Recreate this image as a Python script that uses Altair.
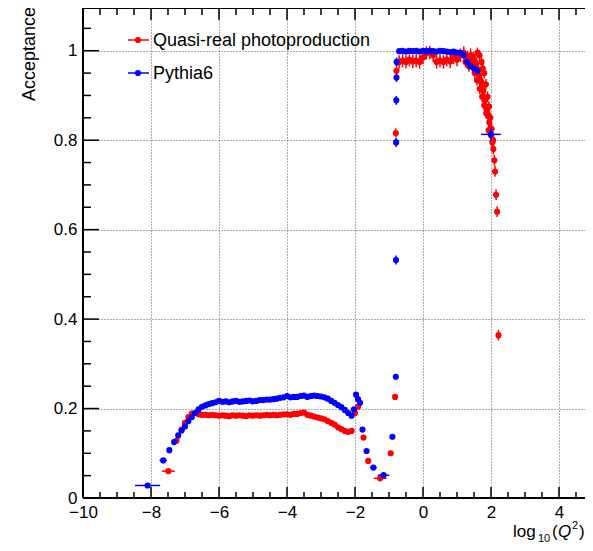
import altair as alt
import pandas as pd

# ---------------- data ----------------
# Quasi-real photoproduction (red)
red_x = [-7.49, -7.25,
         -7.1, -7.0, -6.9, -6.8, -6.7, -6.6, -6.5, -6.4, -6.3, -6.2, -6.1, -6.0,
         -5.9, -5.8, -5.7, -5.6, -5.5, -5.4, -5.3, -5.2, -5.1, -5.0,
         -4.9, -4.8, -4.7, -4.6, -4.5, -4.4, -4.3, -4.2, -4.1, -4.0,
         -3.9, -3.8, -3.7, -3.6, -3.5, -3.4, -3.3, -3.2, -3.1, -3.0,
         -2.9, -2.8, -2.7, -2.6, -2.5, -2.4, -2.3, -2.2, -2.1,
         -2.0, -1.91, -1.75, -1.61, -1.26, -0.95, -0.82, -0.80, -0.78,
         -0.7, -0.6, -0.5, -0.4, -0.3, -0.2, -0.1, 0.0, 0.1, 0.2, 0.3,
         0.4, 0.5, 0.6, 0.7, 0.8, 0.9, 1.0, 1.1, 1.2, 1.3, 1.4,
         1.47, 1.50, 1.53, 1.56, 1.59, 1.60, 1.62, 1.65, 1.66, 1.68, 1.71, 1.72,
         1.74, 1.77, 1.80, 1.83, 1.86, 1.89, 1.92, 1.95, 1.98, 2.01, 2.04,
         2.07, 2.10, 2.12, 2.15, 2.18, 2.22,
         1.25, 1.35, 1.44, 1.52, 1.59, 1.67, 1.74, 1.80, 1.86, 1.93,
         1.76, 1.80, 1.85, 1.90, 1.94, 1.98, 2.02, 2.06]
red_y = [0.060, 0.128,
         0.153, 0.168, 0.181, 0.189, 0.190, 0.187, 0.186, 0.186, 0.185, 0.186, 0.185, 0.184,
         0.185, 0.184, 0.183, 0.185, 0.184, 0.185, 0.184, 0.183, 0.185, 0.184,
         0.185, 0.184, 0.185, 0.186, 0.185, 0.186, 0.185, 0.186, 0.187, 0.187,
         0.186, 0.188, 0.188, 0.190, 0.191, 0.186, 0.184, 0.182, 0.180, 0.178,
         0.176, 0.172, 0.168, 0.164, 0.158, 0.154, 0.150, 0.148, 0.150,
         0.190, 0.204, 0.135, 0.083, 0.044, 0.100, 0.226, 0.816, 0.955,
         0.975, 0.978, 0.975, 0.980, 0.976, 0.978, 0.975, 0.985, 0.995, 0.996, 0.990,
         0.975, 0.978, 0.975, 0.980, 0.976, 0.985, 0.980, 0.990, 0.995, 0.985, 0.990,
         0.985, 0.980, 0.975, 0.970, 0.960, 0.995, 0.955, 0.945, 0.990, 0.935, 0.930, 0.975,
         0.915, 0.910, 0.895, 0.890, 0.875, 0.865, 0.855, 0.840, 0.825, 0.810, 0.795,
         0.780, 0.755, 0.730, 0.678, 0.640, 0.364,
         0.975, 0.965, 0.972, 0.950, 0.934, 0.915, 0.897, 0.878, 0.860, 0.822,
         0.960, 0.950, 0.925, 0.897, 0.875, 0.850, 0.825, 0.800]
red_xe = [0.19, 0.05] + [0.05] * 51 + [0.03, 0.03, 0.04, 0.08, 0.19, 0.05, 0.02, 0.01, 0.01] \
    + [0.05] * 22 + [0.015] * 31 + [0.015] * 18
red_ye = [0.003] * 2 + [0.002] * 51 + [0.004, 0.004, 0.004, 0.004, 0.004, 0.004, 0.006, 0.01, 0.015] \
    + [0.015] * 22 + [0.012] * 31 + [0.012] * 18

# Pythia6 (blue)
blue_x = [-8.10, -7.64, -7.46, -7.32,
          -7.2, -7.1, -7.0, -6.9, -6.8, -6.7, -6.6, -6.5, -6.4, -6.3, -6.2, -6.1, -6.0,
          -5.9, -5.8, -5.7, -5.6, -5.5, -5.4, -5.3, -5.2, -5.1, -5.0,
          -4.9, -4.8, -4.7, -4.6, -4.5, -4.4, -4.3, -4.2, -4.1, -4.0,
          -3.9, -3.8, -3.7, -3.6, -3.5, -3.4, -3.3, -3.2, -3.1, -3.0,
          -2.9, -2.8, -2.7, -2.6, -2.5, -2.4, -2.3, -2.2, -2.1,
          -2.03, -1.97, -1.91, -1.85, -1.78, -1.66, -1.46, -1.16, -0.90,
          -0.80, -0.795, -0.79, -0.785, -0.78, -0.775,
          -0.7, -0.6, -0.5, -0.4, -0.3, -0.2, -0.1, 0.0, 0.1, 0.2, 0.3, 0.4,
          0.5, 0.6, 0.7, 0.8, 0.9, 1.0, 1.1, 1.2, 1.3, 1.4, 1.5, 1.6,
          2.0]
blue_y = [0.028, 0.084, 0.107, 0.125,
          0.140, 0.151, 0.160, 0.172, 0.181, 0.190, 0.198, 0.204, 0.207, 0.210, 0.212, 0.214, 0.217,
          0.215, 0.216, 0.214, 0.216, 0.217, 0.215, 0.216, 0.217, 0.218, 0.216,
          0.217, 0.219, 0.219, 0.220, 0.220, 0.221, 0.222, 0.224, 0.225, 0.228,
          0.225, 0.226, 0.226, 0.228, 0.229, 0.226, 0.228, 0.229, 0.228, 0.227,
          0.225, 0.222, 0.217, 0.213, 0.208, 0.203, 0.197, 0.190, 0.184,
          0.198, 0.231, 0.221, 0.213, 0.153, 0.105, 0.068, 0.051, 0.137,
          0.271, 0.532, 0.795, 0.889, 0.940, 0.975,
          0.999, 1.000, 0.998, 1.000, 0.999, 1.000, 0.998, 1.000, 0.999, 1.000, 0.999, 0.998,
          1.000, 0.999, 0.998, 0.997, 0.998, 0.996, 0.995, 0.990, 0.975, 0.965, 0.960, 0.955,
          0.813]
blue_xe = [0.37, 0.11, 0.06, 0.05] + [0.05] * 52 \
    + [0.03, 0.03, 0.03, 0.03, 0.04, 0.06, 0.10, 0.17, 0.04] \
    + [0.01, 0.005, 0.005, 0.005, 0.005, 0.005] + [0.05] * 24 + [0.29]
blue_ye = [0.003] * 4 + [0.002] * 52 + [0.004] * 9 \
    + [0.006, 0.01, 0.01, 0.01, 0.01, 0.01] + [0.003] * 24 + [0.015]

# axis ticks
x_major = [-10, -8, -6, -4, -2, 0, 2, 4]
x_minor = [-9.5, -9, -8.5, -7.5, -7, -6.5, -5.5, -5, -4.5, -3.5, -3, -2.5,
           -1.5, -1, -0.5, 0.5, 1, 1.5, 2.5, 3, 3.5, 4.5]
y_major = [0, 0.2, 0.4, 0.6, 0.8, 1.0]
y_minor = [0.05, 0.1, 0.15, 0.25, 0.3, 0.35, 0.45, 0.5, 0.55, 0.65, 0.7, 0.75,
           0.85, 0.9, 0.95, 1.05]

# ---------------- chart ----------------
W, H = 502, 490
FONT = "Liberation Sans"
RED, BLUE = "#ff0000", "#0000ff"

xs = alt.Scale(domain=[-10, 4.765], nice=False, zero=False)
ys = alt.Scale(domain=[0, 1.0955], nice=False, zero=False)
xax = alt.Axis(values=x_major, format="d", title=None, ticks=False, domain=False,
               grid=True, gridDash=[1, 2], gridColor="#555", gridWidth=1,
               labelFontSize=17, labelFont=FONT, labelColor="black",
               labelPadding=6, labelFlush=False, labelOverlap=False)
yax = alt.Axis(values=y_major, format="~g", title=None, ticks=False, domain=False,
               grid=True, gridDash=[1, 2], gridColor="#555", gridWidth=1,
               labelFontSize=17, labelFont=FONT, labelColor="black",
               labelPadding=6, labelFlush=False, labelOverlap=False)


def X(f):
    return alt.X(f, type="quantitative", scale=xs, axis=xax)


def Y(f):
    return alt.Y(f, type="quantitative", scale=ys, axis=yax)


def frame_df(xv, yv, xe, ye):
    return pd.DataFrame({
        "x": xv, "y": yv,
        "xlo": [a - b for a, b in zip(xv, xe)], "xhi": [a + b for a, b in zip(xv, xe)],
        "ylo": [a - b for a, b in zip(yv, ye)], "yhi": [a + b for a, b in zip(yv, ye)],
    })


def series(df, color):
    base = alt.Chart(df)
    xerr = base.mark_rule(color=color, strokeWidth=1.5).encode(x=X("xlo"), x2="xhi", y=Y("y"))
    yerr = base.mark_rule(color=color, strokeWidth=1.5).encode(x=X("x"), y=Y("ylo"), y2="yhi")
    pts = base.mark_circle(color=color, size=38, opacity=1).encode(x=X("x"), y=Y("y"))
    return [xerr, yerr, pts]


red_df = frame_df(red_x, red_y, red_xe, red_ye)
blue_df = frame_df(blue_x, blue_y, blue_xe, blue_ye)

xmaj = alt.Chart(pd.DataFrame({"v": x_major}))
xmin = alt.Chart(pd.DataFrame({"v": x_minor}))
ymaj = alt.Chart(pd.DataFrame({"v": y_major}))
ymin = alt.Chart(pd.DataFrame({"v": y_minor}))
tk = dict(color="black", strokeWidth=1.5)
ticks = [
    xmaj.mark_rule(**tk).encode(x=X("v"), y=alt.value(H), y2=alt.value(H - 11)),
    xmin.mark_rule(**tk).encode(x=X("v"), y=alt.value(H), y2=alt.value(H - 6)),
    xmaj.mark_rule(**tk).encode(x=X("v"), y=alt.value(0), y2=alt.value(12)),
    xmin.mark_rule(**tk).encode(x=X("v"), y=alt.value(0), y2=alt.value(7)),
    ymaj.mark_rule(**tk).encode(y=Y("v"), x=alt.value(0), x2=alt.value(16)),
    ymin.mark_rule(**tk).encode(y=Y("v"), x=alt.value(0), x2=alt.value(8)),
]

one = alt.Chart(pd.DataFrame({"a": [0]}))
fr = dict(color="black", strokeWidth=2)
frame = [
    one.mark_rule(**fr).encode(x=alt.value(0), y=alt.value(0), y2=alt.value(H)),
    one.mark_rule(**fr).encode(x=alt.value(0), x2=alt.value(W), y=alt.value(0)),
    one.mark_rule(**fr).encode(x=alt.value(0), x2=alt.value(W), y=alt.value(H)),
]

legend = []
for label, color, ly in [("Quasi-real photoproduction", RED, 32), ("Pythia6", BLUE, 65)]:
    legend += [
        one.mark_rule(color=color, strokeWidth=1.5).encode(x=alt.value(45), x2=alt.value(66), y=alt.value(ly)),
        one.mark_circle(color=color, size=38, opacity=1).encode(x=alt.value(55), y=alt.value(ly)),
        one.mark_text(text=label, align="left", baseline="middle", font=FONT, fontSize=18,
                      color="black").encode(x=alt.value(70), y=alt.value(ly + 1)),
    ]

t = dict(font=FONT, color="black", baseline="alphabetic", align="left")
titles = [
    one.mark_text(text="Acceptance", angle=270, font=FONT, fontSize=18, color="black",
                  align="right", baseline="alphabetic").encode(x=alt.value(-48), y=alt.value(-1)),
    one.mark_text(text="log", fontSize=17, **t).encode(x=alt.value(430), y=alt.value(529)),
    one.mark_text(text="10", fontSize=11, **t).encode(x=alt.value(455), y=alt.value(534)),
    one.mark_text(text="(", fontSize=17, **t).encode(x=alt.value(469), y=alt.value(529)),
    one.mark_text(text="Q", fontSize=17, fontStyle="italic", **t).encode(x=alt.value(475), y=alt.value(529)),
    one.mark_text(text="2", fontSize=11, **t).encode(x=alt.value(489), y=alt.value(521)),
    one.mark_text(text=")", fontSize=17, **t).encode(x=alt.value(496), y=alt.value(529)),
]

layers = series(red_df, RED) + series(blue_df, BLUE) + ticks + frame + legend + titles

chart = alt.layer(*layers).properties(
    width=W, height=H,
    autosize=alt.AutoSizeParams(type="none"),
    padding={"left": 75, "top": 0, "right": 0, "bottom": 45},
).configure_view(stroke=None).configure(background="white")

chart.save("out.html", embed_options={"renderer": "svg", "actions": False})
